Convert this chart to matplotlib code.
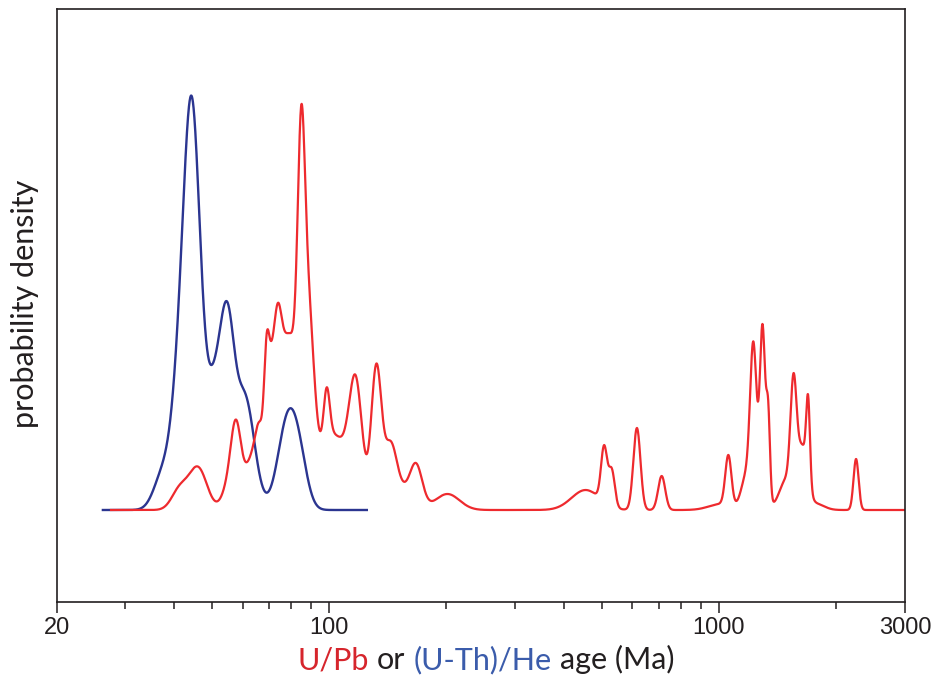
import numpy as np
import matplotlib
matplotlib.use("Agg")
import matplotlib.pyplot as plt
from matplotlib.offsetbox import TextArea, HPacker, AnchoredOffsetbox
from matplotlib.ticker import FixedLocator, NullFormatter

# U/Pb age components: peak age (Ma), 1-sigma spread (% of age), peak height
upb_age = [41.4, 46.1, 55.0, 57.7, 64.2, 66.5, 69.1, 70.6, 73.4, 79.0,
           84.8, 88.1, 98.6, 102.5, 117.1, 132.2, 143.6, 152.3, 167.4, 201.2,
           455, 507.5, 531, 616, 713, 1012, 1057, 1174, 1224, 1260,
           1294, 1337, 1488, 1553, 1636, 1693, 1777, 2247]
upb_sd = [4.7, 5.3, 3.6, 3.0, 5.3, 2.4, 1.5, 1.8, 2.7, 5.3,
          2.1, 3.6, 1.8, 8.9, 3.8, 3.0, 3.6, 7.1, 3.6, 7.1,
          8.3, 1.8, 1.8, 2.1, 2.1, 7.1, 1.8, 3.0, 1.8, 3.6,
          1.5, 1.1, 4.1, 1.8, 3.0, 1.1, 4.7, 1.5]
upb_height = [20, 42, 20, 75, 55, 40, 95, 60, 130, 170,
              224, 180, 53, 75, 110, 138, 52, 20, 38, 16,
              20, 55, 36, 82, 34, 6, 50, 30, 128, 40,
              153, 85, 30, 106, 60, 80, 6, 51]
upb_range = (27.6, 3000)

# (U-Th)/He age components
he_age = [37.5, 41.2, 44.5, 51.0, 55.0, 60.9, 78.5, 84.3]
he_sd = [5.3, 4.7, 4.9, 5.9, 4.1, 5.6, 5.9, 4.7]
he_height = [35, 95, 380, 120, 133, 110, 90, 30]
he_range = (26.3, 125)

major_ticks = [20, 100, 1000, 3000]
minor_ticks = [30, 40, 50, 60, 70, 80, 90, 200, 300, 400, 500, 600, 700, 800, 900, 2000]

red = "#ee2a2e"
blue = "#2b3590"


def pdp(t, ages, sds, heights):
    t = np.asarray(t)[:, None]
    z = np.log(t / np.array(ages)) / (np.array(sds) / 100.0)
    return (np.array(heights) * np.exp(-0.5 * z ** 2)).sum(axis=1)


fig = plt.figure(figsize=(9.33, 6.79), dpi=100)
ax = fig.add_axes([56.5 / 933, 77 / 679, 848.5 / 933, 593 / 679])

t_upb = np.logspace(np.log10(upb_range[0]), np.log10(upb_range[1]), 4000)
t_he = np.logspace(np.log10(he_range[0]), np.log10(he_range[1]), 2000)
ax.plot(t_he, pdp(t_he, he_age, he_sd, he_height), color=blue, lw=1.7)
ax.plot(t_upb, pdp(t_upb, upb_age, upb_sd, upb_height), color=red, lw=1.6)

ax.set_xscale("log")
ax.set_xlim(20, 3000)
ax.set_ylim(-92, 501)
ax.xaxis.set_major_locator(FixedLocator(major_ticks))
ax.xaxis.set_minor_locator(FixedLocator(minor_ticks))
ax.xaxis.set_minor_formatter(NullFormatter())
ax.set_xticklabels([str(v) for v in major_ticks])
ax.set_yticks([])
ax.tick_params(axis="x", which="major", length=8, width=1.1, direction="out",
               labelsize=17, pad=3, colors="#231f20")
ax.tick_params(axis="x", which="minor", length=5, width=1.1, direction="out",
               colors="#231f20")
for lab in ax.get_xticklabels():
    lab.set_fontfamily("Liberation Sans")
for sp in ax.spines.values():
    sp.set_linewidth(1.2)
    sp.set_color("#231f20")

label_font = "Lato"
fig.text(25 / 933, 1 - 303.5 / 679, "probability density", rotation=90,
         ha="center", va="center", fontsize=22, family=label_font, color="#231f20")

parts = [("U/Pb", "#d6252c"), ("or", "#231f20"), ("(U-Th)/He", "#3b5cab"), ("age (Ma)", "#231f20")]
boxes = [TextArea(s, textprops=dict(color=c, fontsize=22, family=label_font)) for s, c in parts]
packed = HPacker(children=boxes, align="baseline", pad=0, sep=6)
anchored = AnchoredOffsetbox(loc="upper center", child=packed, frameon=False,
                             bbox_to_anchor=(486 / 933, 1 - 645 / 679),
                             bbox_transform=fig.transFigure, borderpad=0, pad=0)
fig.add_artist(anchored)

fig.savefig("out.png", dpi=100)
